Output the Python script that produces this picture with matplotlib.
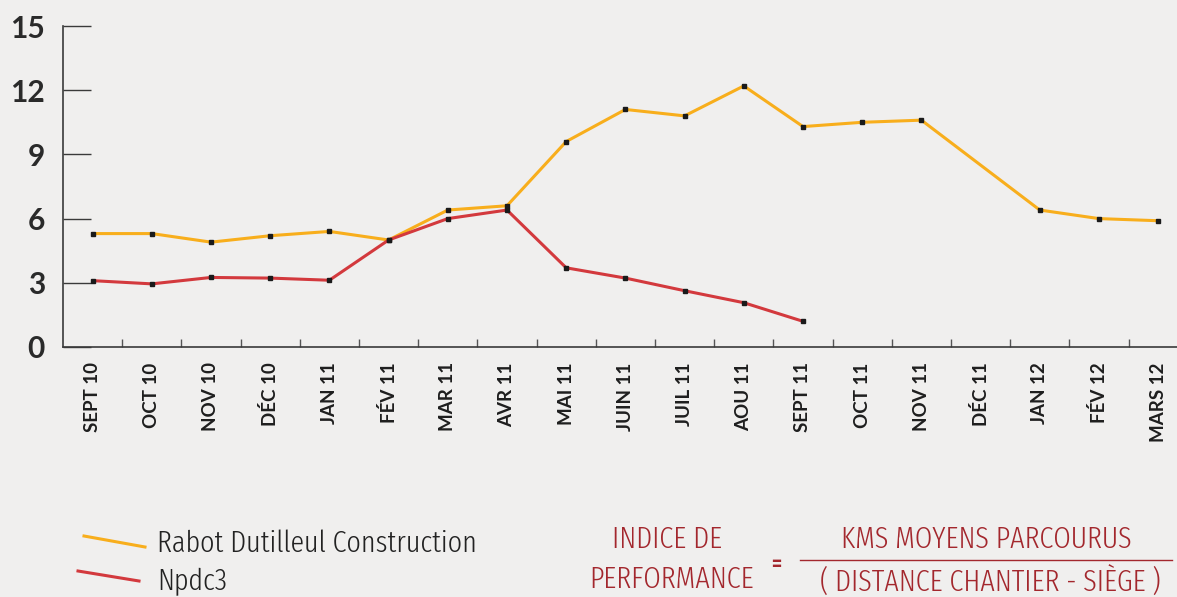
import numpy as np
import matplotlib
matplotlib.use('Agg')
import matplotlib.pyplot as plt
from matplotlib.lines import Line2D
from matplotlib.ticker import FixedLocator

# mois (axe x)
mois = ['SEPT 10', 'OCT 10', 'NOV 10', 'DÉC 10', 'JAN 11', 'FÉV 11', 'MAR 11',
        'AVR 11', 'MAI 11', 'JUIN 11', 'JUIL 11', 'AOU 11', 'SEPT 11', 'OCT 11',
        'NOV 11', 'DÉC 11', 'JAN 12', 'FÉV 12', 'MARS 12']
# indice de performance, None = pas de valeur
rabot = [5.3, 5.3, 4.9, 5.2, 5.4, 5.0, 6.4, 6.6, 9.6, 11.1, 10.8, 12.2, 10.3,
         10.5, 10.6, None, 6.4, 6.0, 5.9]
npdc3 = [3.1, 2.95, 3.25, 3.22, 3.12, 5.0, 6.0, 6.4, 3.7, 3.22, 2.63, 2.07, 1.2,
         None, None, None, None, None, None]
yticks = [0, 3, 6, 9, 12, 15]

bg = '#f0efee'
orange = '#f8ae1c'
rouge = '#d3393d'
bordeaux = '#a3272d'
gris = '#3a3a3a'

fig = plt.figure(figsize=(11.77, 5.97), dpi=100, facecolor=bg)
ax = fig.add_axes([63 / 1177, 250 / 597, 1 - 63 / 1177, 321 / 597])
ax.set_facecolor(bg)


def serie(vals, color):
    x = np.array([i for i, v in enumerate(vals) if v is not None])
    y = np.array([v for v in vals if v is not None])
    ax.plot(x, y, color=color, lw=2.2, zorder=2, solid_joinstyle='miter')
    ax.plot(x, y, ls='none', marker='s', ms=3, mfc='#1a1a1a', mec='#1a1a1a', zorder=3)


serie(rabot, orange)
serie(npdc3, rouge)

ax.set_xlim(-0.5, -0.5 + (1177 - 63) / 59.2)
ax.set_ylim(0, 15)
ax.set_yticks(yticks)
ax.set_yticklabels([str(t) for t in yticks], fontfamily='Lato', fontweight='bold', fontsize=21.5, color='#2a2a2a')
ax.tick_params(axis='y', direction='in', length=20, width=1, color=gris, pad=13)

ax.set_xticks(range(len(mois)))
ax.set_xticklabels(mois, rotation=90, fontfamily='Lato', fontweight='bold', fontsize=13.5,
                   color='#1e1e1e', ha='center', va='top')
ax.tick_params(axis='x', which='major', length=0, pad=11)
ax.xaxis.set_minor_locator(FixedLocator(np.arange(0.5, len(mois) - 1, 1)))
ax.tick_params(axis='x', which='minor', direction='in', length=6, width=1, color='#555555')

for s in ['top', 'right']:
    ax.spines[s].set_visible(False)
for s in ['left', 'bottom']:
    ax.spines[s].set_color(gris)
    ax.spines[s].set_linewidth(1.2)


# légende en bas à gauche (coordonnées pixels)
def px(x, y):
    return x / 1177, 1 - y / 597


cond = ['Fira Sans Extra Condensed', 'DejaVu Sans']
fs = 22
for (x0, y0, x1, y1), c, lab, ty in [((84, 536, 145, 547), orange, 'Rabot Dutilleul Construction', 544),
                                     ((78, 571, 139, 581), rouge, 'Npdc3', 582)]:
    a, b = px(x0, y0)
    c2, d = px(x1, y1)
    fig.add_artist(Line2D([a, c2], [b, d], color=c, lw=2.2, transform=fig.transFigure))
    fig.text(*px(157, ty), lab, fontfamily=cond, fontweight=300, fontsize=fs, color='#222222',
             va='center', ha='left')

# formule
kw = dict(fontfamily=cond, fontweight=300, fontsize=fs, color=bordeaux, ha='center', va='center')
fig.text(*px(667, 540), 'INDICE DE', **kw)
fig.text(*px(672, 580), 'PERFORMANCE', **kw)
fig.text(*px(776, 564), '=', fontfamily=cond, fontweight=600, fontsize=17, color=bordeaux, ha='center', va='center')
fig.text(*px(986, 540), 'KMS MOYENS PARCOURUS', **kw)
fig.text(*px(990, 582), '( DISTANCE CHANTIER - SIÈGE )', **kw)
a, b = px(800, 560)
c2, d = px(1172, 560)
fig.add_artist(Line2D([a, c2], [b, d], color=bordeaux, lw=1, transform=fig.transFigure))

fig.savefig('out.png', dpi=100, facecolor=bg)
